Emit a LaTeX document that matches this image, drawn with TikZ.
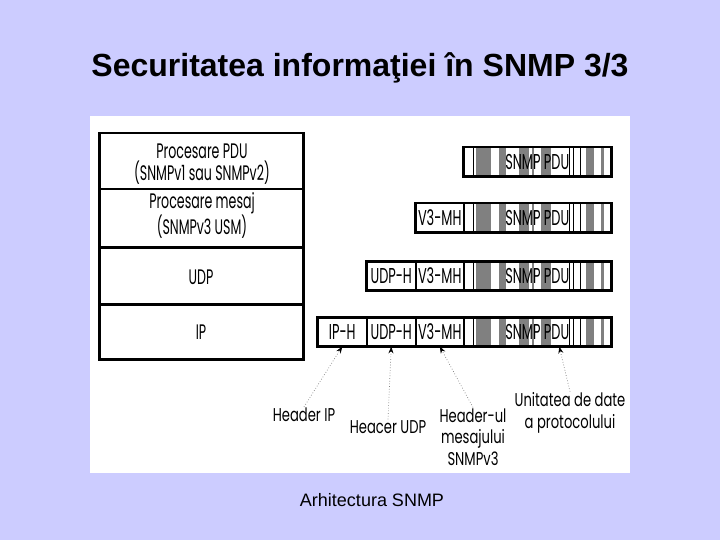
\documentclass[tikz,border=0pt]{standalone}
\usepackage{fontspec}
\usetikzlibrary{arrows.meta}
\setmainfont{Liberation Sans}
\newfontfamily\gfont{Poppins}[FakeStretch=0.6]
\newfontfamily\lfont{Poppins}[FakeStretch=0.71]
\definecolor{bgc}{HTML}{CCCCFF}
\definecolor{stripe}{HTML}{808080}
\tikzset{
  layer/.style={draw, line width=2.5pt, minimum width=204pt, anchor=north west, inner sep=0pt},
  layertext/.style={align=center, inner sep=0pt, font=\gfont\fontsize{21}{21.5}\selectfont},
  seg/.style={draw, line width=1.5pt, minimum height=28pt, anchor=north west, inner sep=0pt,
    font=\gfont\fontsize{21.5}{22}\selectfont},
  lbl/.style={align=center, inner sep=1pt, font=\lfont\fontsize{18.5}{21.5}\selectfont},
  ptr/.style={draw=gray, line width=0.7pt, dotted, -{Stealth[length=7pt,width=5pt,black]}},
  outer/.style={draw, line width=2.8pt}
}
\begin{document}
\begin{tikzpicture}[x=1pt,y=-1pt]
\useasboundingbox (0,0) rectangle (720,540);
\fill[bgc] (0,0) rectangle (720,540);
\fill[white] (90,116) rectangle (630,473);
\node[font=\bfseries\fontsize{32}{36}\selectfont] (title) at (360,68) {Securitatea informaţiei în SNMP 3/3};
% protocol stack
\node[layer, minimum height=56pt] (l1) at (98,132) {};
\node[layer, minimum height=58pt] (l2) at (98,188) {};
\node[layer, minimum height=57pt] (l3) at (98,246) {};
\node[layer, minimum height=55pt] (l4) at (98,303) {};
\node[layertext] (t1) at (202,164) {Procesare PDU\\(SNMPv1 sau SNMPv2)};
\node[layertext] (t2) at (202,215) {Procesare mesaj\\(SNMPv3 USM)};
\node[layertext] (t3) at (201,277) {UDP};
\node[layertext] (t4) at (201,332) {IP};
% stripes of the PDU fields
\foreach \y in {147,203,261,317}{
  \foreach \a/\b in {476/491,499/506,519/529,532/534,541/551,586/594,601/604}
    \fill[stripe] (\a,\y) rectangle (\b,\y+28);
  \foreach \x in {473,569,573,580}
    \draw[line width=0.6pt] (\x,\y) -- (\x,\y+28);
}
% packets
\node[seg, minimum width=147pt] (pdu1) at (463,147) {SNMP PDU};
\node[seg, minimum width=48pt] (v32) at (415,203) {V3-MH};
\node[seg, minimum width=147pt] (pdu2) at (463,203) {SNMP PDU};
\node[seg, minimum width=49pt] (udp3) at (366,261) {UDP-H};
\node[seg, minimum width=48pt] (v33) at (415,261) {V3-MH};
\node[seg, minimum width=147pt] (pdu3) at (463,261) {SNMP PDU};
\node[seg, minimum width=49pt] (ip4) at (317,317) {IP-H};
\node[seg, minimum width=49pt] (udp4) at (366,317) {UDP-H};
\node[seg, minimum width=48pt] (v34) at (415,317) {V3-MH};
\node[seg, minimum width=147pt] (pdu4) at (463,317) {SNMP PDU};
\draw[outer] (pdu1.north west) rectangle (pdu1.south east);
\draw[outer] (v32.north west) rectangle (pdu2.south east);
\draw[outer] (udp3.north west) rectangle (pdu3.south east);
\draw[outer] (ip4.north west) rectangle (pdu4.south east);
% labels
\node[lbl] (hip) at (304,415) {Header IP};
\node[lbl] (hudp) at (388,427) {Heacer UDP};
\node[lbl] (hv3) at (473,437) {Header-ul\\mesajului\\SNMPv3};
\node[lbl] (hpdu) at (570,413) {Unitatea de date\\a protocolului};
\coordinate (pdutip) at ([xshift=22pt]pdu4.south);
\draw[ptr] (hip.north) -- (ip4.south);
\draw[ptr] (hudp.north) -- (udp4.south);
\draw[ptr] (hv3.north) -- (v34.south);
\draw[ptr] (hpdu.north) -- (pdutip);
\node[font=\fontsize{18}{20}\selectfont] (cap) at (372,500) {Arhitectura SNMP};
\end{tikzpicture}
\end{document}
